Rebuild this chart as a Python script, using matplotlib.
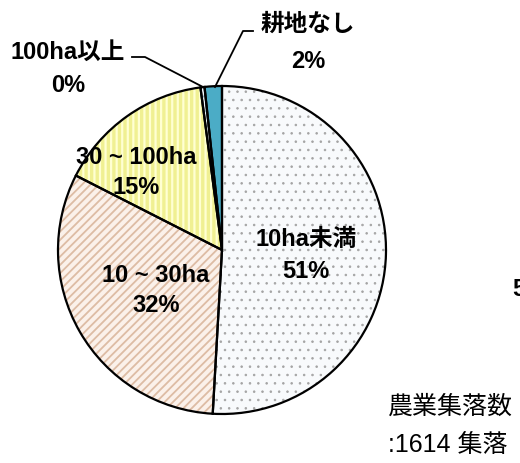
import matplotlib.pyplot as plt
import matplotlib as mpl

plt.rcParams['font.family'] = ['Liberation Sans', 'Noto Sans CJK JP', 'DejaVu Sans']

# data
labels = ['10ha未満', '10 ~ 30ha', '30 ~ 100ha', '100ha以上', '耕地なし']
values = [50.9, 31.6, 15.4, 0.4, 1.7]
shown = ['51%', '32%', '15%', '0%', '2%']
faces = ['#F8FAFC', '#FBF1EA', '#FFFFD2', '#EEF4FA', '#4BACC6']
hatch_cols = ['#A4A4A4', '#DDBCA4', '#F0F092', '#9AB8CC', '#4BACC6']
hatches = ['..', '////', '|||', '//', None]
hatch_lw = [0.6, 1.3, 2.4, 1.0, 1.0]

mpl.rcParams['hatch.linewidth'] = 1.3

fig = plt.figure(figsize=(5.2, 4.64), dpi=100)
ax = fig.add_axes([0, 0, 1, 1])
H = 464

cx, cy, r = 222, H - 251, 164

# fill + hatch layer
w1, _ = ax.pie(values, startangle=90, counterclock=False, center=(cx, cy), radius=r,
               colors=faces, wedgeprops=dict(linewidth=0))
for w, hc, h, hl in zip(w1, hatch_cols, hatches, hatch_lw):
    if h:
        w.set_hatch(h)
        w.set_edgecolor(hc)
        if hasattr(w, 'set_hatch_linewidth'):
            w.set_hatch_linewidth(hl)
# outline layer
w2, _ = ax.pie(values, startangle=90, counterclock=False, center=(cx, cy), radius=r,
               wedgeprops=dict(fill=False, edgecolor='black', linewidth=1.6))

ax.set_xlim(0, 520)
ax.set_ylim(0, H)
ax.set_aspect('equal')
ax.axis('off')

fs = 17
lab_pos = [(306, 240), (156, 275), (136, 157), (68, 52), (308, 24)]
gaps = [32, 31, 31, 34, 37]
for (x, y), g, name, pct in zip(lab_pos, gaps, labels, shown):
    ax.text(x, H - y, name, ha='center', va='center', fontsize=fs, fontweight='bold')
    ax.text(x, H - y - g, pct, ha='center', va='center', fontsize=fs, fontweight='bold')

# leader lines
ax.plot([132, 145, 203], [H - 58, H - 58, H - 88], color='black', lw=1.3)
ax.plot([253, 243, 215], [H - 32, H - 32, H - 88], color='black', lw=1.3)

# cut-off text on right
ax.text(512, H - 290, '5', ha='left', va='center', fontsize=fs, fontweight='bold')

ax.text(388, H - 407, '農業集落数', ha='left', va='center', fontsize=18)
ax.text(388, H - 445, ':1614 集落', ha='left', va='center', fontsize=18)

fig.savefig('out.png', dpi=100)
